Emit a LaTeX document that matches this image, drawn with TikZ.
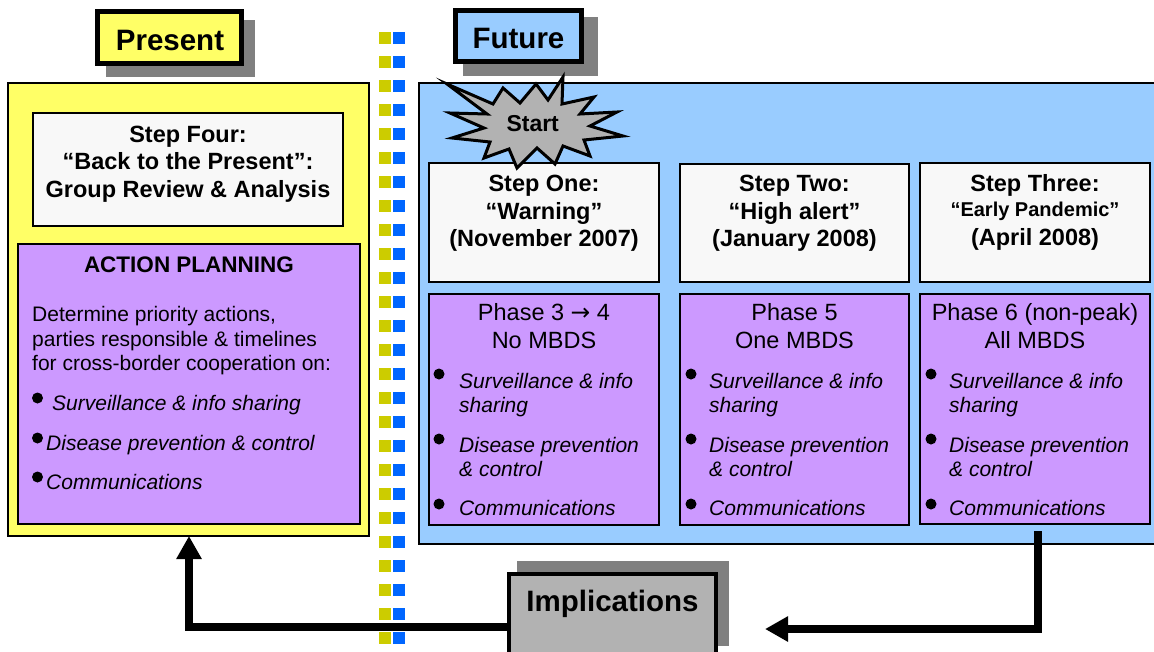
\documentclass[tikz,border=0pt]{standalone}
\usepackage{fontspec}
\setmainfont{Liberation Sans}
\newfontfamily\symfont{DejaVu Sans}
\usetikzlibrary{arrows.meta}
\definecolor{panelyellow}{HTML}{FFFF66}
\definecolor{panelblue}{HTML}{99CCFF}
\definecolor{boxpurple}{HTML}{CC99FF}
\definecolor{boxwhite}{HTML}{F8F8F8}
\definecolor{startgray}{HTML}{B2B2B2}
\definecolor{shadowgray}{HTML}{808080}
\definecolor{dotyellow}{HTML}{CCCC00}
\definecolor{dotblue}{HTML}{0066FF}
\newcommand\drawbox[6]{\node[#2, minimum width={#5-#3}, minimum height={#6-#4}] (#1) at ({(#3+#5)/2},{(#4+#6)/2}) {};}
\begin{document}
\begin{tikzpicture}[x=1pt,y=-1pt,
  base/.style={rectangle, inner sep=0pt, outer sep=0pt},
  shadow/.style={base, fill=shadowgray},
  label/.style={base, draw=black, line width=5pt},
  panel/.style={base, draw=black, line width=2pt},
  wbox/.style={panel, fill=boxwhite},
  pbox/.style={panel, fill=boxpurple},
  bigtitle/.style={anchor=base, inner sep=0pt, font=\fontsize{29.5}{34}\selectfont\bfseries},
  steptxt/.style={anchor=base, inner sep=0pt, font=\fontsize{23.5}{28}\selectfont\bfseries},
  steptxtsm/.style={anchor=base, inner sep=0pt, font=\fontsize{20}{24}\selectfont\bfseries},
  phasetxt/.style={anchor=base, inner sep=0pt, font=\fontsize{23.5}{28}\selectfont},
  bodytxt/.style={anchor=base west, inner sep=0pt, font=\fontsize{21}{24}\selectfont},
  itemtxt/.style={anchor=base west, inner sep=0pt, font=\fontsize{21}{24}\selectfont\itshape},
  bigarrow/.style={line width=7.5pt, line join=miter, -{Triangle[length=23pt,width=24pt]}}
]
\clip (0,0) rectangle (1154,651);
\fill[white] (0,0) rectangle (1154,651);
% labels with shadows
\drawbox{presshadow}{shadow}{106}{20}{255}{77}
\drawbox{present}{label, fill=panelyellow}{97.5}{11.5}{241.5}{63.5}
\node[bigtitle] (presenttxt) at (170,50.7) {Present};
\drawbox{futshadow}{shadow}{463}{17}{598}{76}
\drawbox{future}{label, fill=panelblue}{455.5}{10.5}{581.5}{61.5}
\node[bigtitle] (futuretxt) at (518.5,48.5) {Future};
% panels
\drawbox{yellowpanel}{panel, fill=panelyellow}{8}{83}{369}{536}
\drawbox{bluepanel}{panel, fill=panelblue}{419}{83}{1180}{544}
% present side
\drawbox{stepfour}{wbox}{33}{113}{343}{226}
\node[steptxt] (sf1) at (188,142.7) {Step Four:};
\node[steptxt] (sf2) at (188,169.3) {“Back to the Present”:};
\node[steptxt] (sf3) at (188,197.3) {Group Review \& Analysis};
\drawbox{action}{pbox}{18}{244}{360}{524}
\node[steptxt, font=\fontsize{22.5}{27}\selectfont\bfseries] (ap0) at (189,272) {ACTION PLANNING};
\node[bodytxt] (ap1) at (32,321.7) {Determine priority actions,};
\node[bodytxt] (ap2) at (32,346.5) {parties responsible \& timelines};
\node[bodytxt] (ap3) at (32,370.7) {for cross-border cooperation on:};
\fill (37.5,398) circle (5.5pt);
\node[itemtxt] (ap4) at (52,410.7) {Surveillance \& info sharing};
\fill (37.5,438) circle (5.5pt);
\node[itemtxt] (ap5) at (46,450.7) {Disease prevention \& control};
\fill (37.5,477) circle (5.5pt);
\node[itemtxt] (ap6) at (46,489.3) {Communications};
% future side
\drawbox{s1}{wbox}{429}{163}{659}{282}
\drawbox{s2}{wbox}{680}{164}{909}{282}
\drawbox{s3}{wbox}{920}{163}{1150}{282}
\drawbox{p1}{pbox}{429}{294}{659}{525}
\drawbox{p2}{pbox}{680}{294}{909}{525}
\drawbox{p3}{pbox}{920}{294}{1150}{524}
\node[steptxt] (s1a) at (544,191.7) {Step One:};
\node[steptxt] (s1b) at (544,219) {“Warning”};
\node[steptxt] (s1c) at (544,246.7) {(November 2007)};
\node[steptxt] (s2a) at (794.5,191.7) {Step Two:};
\node[steptxt] (s2b) at (794.5,219) {“High alert”};
\node[steptxt] (s2c) at (794.5,246.7) {(January 2008)};
\node[steptxt] (s3a) at (1035,191.7) {Step Three:};
\node[steptxtsm] (s3b) at (1035,216.7) {“Early Pandemic”};
\node[steptxt] (s3c) at (1035,245.7) {(April 2008)};
\node[phasetxt] (ph1a) at (544,320) {Phase 3 {\symfont→} 4};
\node[phasetxt] (ph1b) at (544,348.3) {No MBDS};
\node[phasetxt] (ph2a) at (794.5,320) {Phase 5};
\node[phasetxt] (ph2b) at (794.5,348.3) {One MBDS};
\node[phasetxt] (ph3a) at (1035,320) {Phase 6 (non-peak)};
\node[phasetxt] (ph3b) at (1035,348.3) {All MBDS};
\foreach \n/\dx/\tx in {1/439/459, 2/691/709, 3/931/949} {
  \fill (\dx,374) circle (5.5pt);
  \node[itemtxt] (b\n a) at (\tx,388) {Surveillance \& info};
  \node[itemtxt] (b\n b) at (\tx,412) {sharing};
  \fill (\dx,439) circle (5.5pt);
  \node[itemtxt] (b\n c) at (\tx,452.5) {Disease prevention};
  \node[itemtxt] (b\n d) at (\tx,476.5) {\& control};
  \fill (\dx,504) circle (5.5pt);
  \node[itemtxt] (b\n e) at (\tx,515) {Communications};
}
% start burst
\filldraw[fill=startgray, draw=black, line width=3pt, line join=miter]
  (447,84) -- (493,104) -- (503,88) -- (520,103) -- (536,84) -- (548,100) --
  (563,77) -- (562,104) -- (594,97) -- (580,114) -- (617,112) -- (590,126) --
  (623,136) -- (584,140) -- (590,156) -- (563,146) -- (555,164) -- (537,148) --
  (517,168) -- (509,149) -- (484,158) -- (490,142) -- (452,138) -- (484,128) --
  (450,113) -- (487,114) -- cycle;
\node[anchor=base, inner sep=0pt, font=\fontsize{23}{27}\selectfont\bfseries] (starttxt) at (532.7,131.5) {Start};
% divider dots
\foreach \i in {0,...,25} {
  \fill[dotyellow] (379,{32+24*\i}) rectangle (391,{44+24*\i});
  \fill[dotblue] (392.5,{32+24*\i}) rectangle (404.5,{44+24*\i});
}
% implications and arrows
\drawbox{implshadow}{shadow}{517}{561}{729}{646}
\coordinate (lcorner) at (189,627);
\coordinate (rend) at (765,629);
\draw[bigarrow] ([xshift=3pt,yshift=-7pt]p3.south) |- (rend);
\draw[bigarrow] (lcorner -| 515,0) -| (lcorner |- yellowpanel.south);
\drawbox{impl}{base, draw=black, line width=4pt, fill=startgray}{509}{574}{716}{665}
\node[bigtitle] (impltxt) at (612.5,611.5) {Implications};
\end{tikzpicture}
\end{document}
